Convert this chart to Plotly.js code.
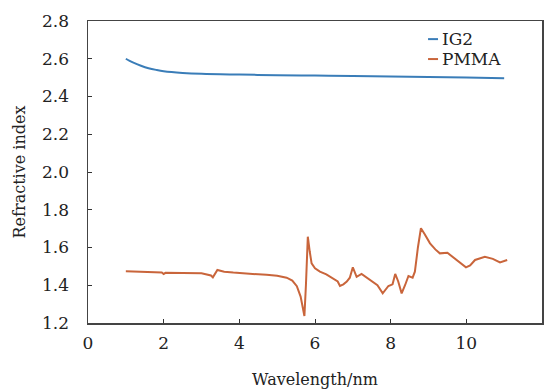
<!DOCTYPE html>
<html>
<head>
<meta charset="utf-8">
<script src="https://cdn.plot.ly/plotly-3.0.1.min.js"></script>
<style>html,body{margin:0;padding:0;background:#fff;}#chart{width:550px;height:391px;}</style>
</head>
<body>
<div id="chart"></div>
<script>
const ig2X = [1, 1.1, 1.2, 1.4, 1.6, 1.8, 2, 2.5, 3, 4, 5, 6, 7, 8, 9, 10, 11];
const ig2Y = [2.600, 2.589, 2.579, 2.563, 2.550, 2.541, 2.534, 2.525, 2.520, 2.516, 2.513, 2.511, 2.509, 2.506, 2.503, 2.500, 2.497];

const pmmaX = [1.0, 1.5, 1.95, 2.0, 2.05, 2.5, 3.0, 3.25, 3.3, 3.42, 3.6, 3.84, 4.3, 4.72, 5.0, 5.25, 5.4, 5.52, 5.62, 5.68, 5.72, 5.76, 5.81, 5.86, 5.91, 6.0, 6.13, 6.3, 6.48, 6.6, 6.66, 6.75, 6.84, 6.92, 7.0, 7.1, 7.23, 7.45, 7.65, 7.79, 7.94, 8.05, 8.12, 8.2, 8.29, 8.38, 8.47, 8.58, 8.64, 8.72, 8.80, 8.9, 9.04, 9.18, 9.3, 9.5, 9.75, 9.99, 10.1, 10.23, 10.49, 10.7, 10.89, 11.08];
const pmmaY = [1.474, 1.471, 1.468, 1.460, 1.466, 1.465, 1.464, 1.452, 1.442, 1.481, 1.472, 1.467, 1.462, 1.455, 1.450, 1.440, 1.425, 1.395, 1.340, 1.280, 1.237, 1.40, 1.657, 1.58, 1.516, 1.49, 1.472, 1.458, 1.437, 1.420, 1.396, 1.405, 1.419, 1.44, 1.495, 1.445, 1.46, 1.428, 1.40, 1.357, 1.396, 1.405, 1.460, 1.42, 1.357, 1.40, 1.449, 1.44, 1.472, 1.60, 1.702, 1.67, 1.622, 1.59, 1.569, 1.572, 1.535, 1.495, 1.505, 1.534, 1.551, 1.54, 1.521, 1.534];

const seriesNames = ['IG2', 'PMMA'];
const seriesColors = ['#3a7db8', '#c9653b'];

const xTicks = [0, 2, 4, 6, 8, 10, 12];
const yTicks = [1.2, 1.4, 1.6, 1.8, 2.0, 2.2, 2.4, 2.6, 2.8];
const yTickText = ['1.2', '1.4', '1.6', '1.8', '2.0', '2.2', '2.4', '2.6', '2.8'];

const FAMILY = 'DejaVu Serif';
const tickFont = {family: FAMILY, size: 17, color: '#222'};
const titleFont = {family: FAMILY, size: 16, color: '#222'};
const legFont = {family: FAMILY, size: 17, color: '#222'};

const traces = [
  {x: ig2X, y: ig2Y, name: seriesNames[0], mode: 'lines', line: {color: seriesColors[0], width: 2, shape: 'spline'}, showlegend: false},
  {x: pmmaX, y: pmmaY, name: seriesNames[1], mode: 'lines', line: {color: seriesColors[1], width: 2}, showlegend: false}
];

const legendY = [0.94, 0.874];
const legendText = seriesNames.map((n, i) => ({
  xref: 'paper', yref: 'paper', x: 0.7775, y: legendY[i], xanchor: 'left', yanchor: 'middle',
  showarrow: false, align: 'left', text: n, font: legFont, borderpad: 0
}));
const legendLines = seriesNames.map((n, i) => ({
  type: 'line', xref: 'paper', yref: 'paper', x0: 0.749, x1: 0.771, y0: legendY[i], y1: legendY[i],
  line: {color: seriesColors[i], width: 2}
}));

const layout = {
  width: 550, height: 391,
  margin: {l: 88, r: 8, t: 21, b: 68},
  paper_bgcolor: '#fff', plot_bgcolor: '#fff',
  font: titleFont,
  showlegend: false,
  annotations: legendText,
  shapes: legendLines,
  xaxis: {
    range: [0, 12], tickvals: xTicks, ticktext: xTicks.map(String),
    ticks: 'inside', ticklen: 4, tickcolor: '#333', showgrid: false, zeroline: false,
    showline: true, linecolor: '#444', linewidth: 1.5, mirror: true,
    ticklabelstandoff: 4, tickfont: tickFont,
    title: {text: 'Wavelength/nm', font: titleFont, standoff: 22}
  },
  yaxis: {
    range: [1.2, 2.8], tickvals: yTicks, ticktext: yTickText,
    ticks: 'inside', ticklen: 4, tickcolor: '#333', showgrid: false, zeroline: false,
    showline: true, linecolor: '#444', linewidth: 1.5, mirror: true,
    ticklabelstandoff: 14, tickfont: tickFont,
    title: {text: 'Refractive index', font: titleFont, standoff: 12}
  }
};

Plotly.newPlot('chart', traces, layout, {displayModeBar: false, staticPlot: true});
</script>
</body>
</html>
